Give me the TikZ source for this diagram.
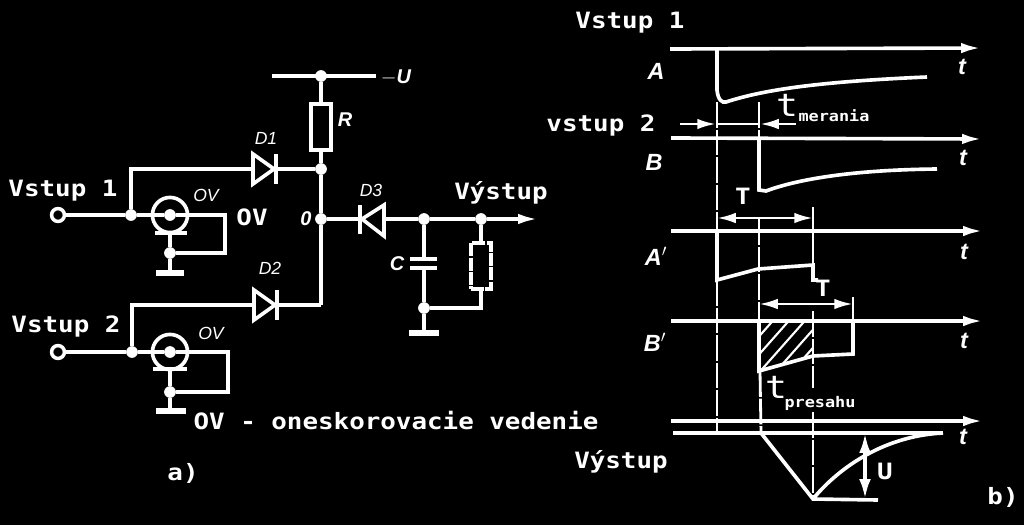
\documentclass[tikz,border=0pt]{standalone}
\usepackage{fontspec}
\setmainfont{Liberation Sans}
\newfontfamily\monofont[FakeStretch=1.15]{DejaVu Sans Mono}
\usetikzlibrary{arrows.meta}

\tikzset{
  wire/.style={draw=white,line width=3.1pt,line join=miter},
  thinwire/.style={draw=white,line width=2.3pt},
  hatch/.style={draw=white,line width=1.8pt},
  guide/.style={draw=white,line width=2.4pt,dash pattern=on 22pt off 1.5pt},
  axis/.style={wire,-{Latex[length=17pt,width=9pt]}},
  dim/.style={thinwire,{Latex[length=16pt,width=9pt]}-{Latex[length=16pt,width=9pt]}},
  dot/.style={circle,fill=white,inner sep=0pt,minimum size=10pt},
  term/.style={circle,draw=white,line width=3pt,fill=black,inner sep=0pt,minimum size=11pt},
  res/.style={draw=white,line width=3.1pt,fill=black,inner sep=0pt,minimum width=17pt,minimum height=39pt},
  txt/.style={text=white,font=\monofont\bfseries\fontsize{19.2}{21}\selectfont,inner sep=0pt},
  sub/.style={text=white,font=\monofont\bfseries\fontsize{12.5}{14}\selectfont,inner sep=0pt},
  big/.style={text=white,font=\monofont\fontsize{27}{29}\selectfont,inner sep=0pt},
  lab/.style={text=white,font=\itshape\fontsize{15}{17}\selectfont,inner sep=0pt},
  sig/.style={text=white,font=\bfseries\itshape\fontsize{20}{22}\selectfont,inner sep=0pt},
}

\begin{document}
\begin{tikzpicture}[x=0.03cm,y=-0.03cm]
  \fill[black] (0,0) rectangle (1024,525); %Background
  \useasboundingbox (0,0) rectangle (1024,525);

  %--- a) circuit
  \coordinate (railL) at (272,76);
  \coordinate (railR) at (376,76);
  \node[dot] (top) at (321,76) {};
  \node[res] (R) at (321,127) {};
  \node[dot] (nD) at (321,169) {};
  \node[dot] (nO) at (321,219) {};
  \coordinate (nE) at (321,305);
  \draw[wire] (railL) -- (railR); %Supply rail
  \draw[wire] (top) -- (R.north);
  \draw[wire] (R.south) -- (nD);
  \draw[wire] (nD) -- (nO);
  \draw[wire] (nO) -- (nE);

  \node[term] (in1) at (58,215) {}; %Input 1
  \node[dot] (j1) at (131,215) {};
  \coordinate (d1a) at (253,169);
  \coordinate (d1k) at (276,169);
  \draw[wire] (in1) -- (j1);
  \draw[wire] (j1) |- (d1a);
  \draw[wire] (d1a) -- (253,154) -- (274,169) -- (253,184) -- cycle; %Diode D1
  \draw[wire] (276,154) -- (276,184);
  \draw[wire] (d1k) -- (nD);

  \node[circle,draw=white,line width=3.1pt,inner sep=0pt,minimum size=30pt] (ov1) at (170,215) {}; %Delay line 1
  \node[dot] (ov1c) at (170,215) {};
  \node[dot] (g1) at (170,253) {};
  \coordinate (g1e) at (170,273);
  \coordinate (ov1b) at (170,233);
  \draw[wire] (j1) -- (ov1c);
  \draw[wire] (ov1c) -- (225,215) -- (225,253) -- (g1);
  \draw[wire] (155,233) -- (187,233);
  \draw[wire] (ov1b) -- (g1);
  \draw[wire] (g1) -- (g1e);
  \draw[line width=5pt,draw=white] (156,273) -- (184,273);

  \node[term] (in2) at (58,352) {}; %Input 2
  \node[dot] (j2) at (132,352) {};
  \coordinate (d2a) at (254,305);
  \coordinate (d2k) at (277,305);
  \draw[wire] (in2) -- (j2);
  \draw[wire] (j2) |- (d2a);
  \draw[wire] (d2a) -- (254,290) -- (275,305) -- (254,320) -- cycle; %Diode D2
  \draw[wire] (277,290) -- (277,320);
  \draw[wire] (d2k) -- (nE);

  \node[circle,draw=white,line width=3.1pt,inner sep=0pt,minimum size=30pt] (ov2) at (170,352) {}; %Delay line 2
  \node[dot] (ov2c) at (170,352) {};
  \node[dot] (g2) at (170,392) {};
  \coordinate (g2e) at (170,411);
  \coordinate (ov2b) at (170,369);
  \draw[wire] (j2) -- (ov2c);
  \draw[wire] (ov2c) -- (228,352) -- (228,392) -- (g2);
  \draw[wire] (153,369) -- (187,369);
  \draw[wire] (ov2b) -- (g2);
  \draw[wire] (g2) -- (g2e);
  \draw[line width=5pt,draw=white] (156,411) -- (186,411);

  \coordinate (d3k) at (360,219); %Diode D3
  \coordinate (d3a) at (384,219);
  \node[dot] (jC) at (424,219) {};
  \node[dot] (jL) at (481,219) {};
  \coordinate (out) at (538,219);
  \draw[wire] (nO) -- (d3k);
  \draw[wire] (384,205) -- (362,219) -- (384,236) -- cycle;
  \draw[wire] (360,205) -- (360,234);
  \draw[wire] (d3a) -- (jC);
  \draw[wire] (jC) -- (jL);
  \draw[axis] (jL) -- (out);

  \coordinate (cT) at (424,259); %Capacitor
  \coordinate (cB) at (424,268);
  \node[dot] (jG) at (424,308) {};
  \coordinate (gE) at (424,333);
  \draw[wire] (jC) -- (cT);
  \draw[wire] (410,259) -- (437,259);
  \draw[wire] (410,268) -- (437,268);
  \draw[wire] (cB) -- (jG);
  \draw[wire] (jG) -- (gE);
  \draw[line width=5pt,draw=white] (409,333) -- (439,333);

  \node[res,dash pattern=on 11pt off 1.2pt] (RL) at (481,266) {}; %Load
  \draw[wire] (jL) -- (RL.north);
  \draw[wire] (RL.south) |- (jG);

  \node[lab] (lD1) at (266,138) {D1};
  \node[lab] (lD2) at (270,268) {D2};
  \node[lab] (lD3) at (371,190) {D3};
  \node[sig,font=\bfseries\itshape\fontsize{17}{19}\selectfont] (lR) at (345,120) {R};
  \node[sig,font=\bfseries\itshape\fontsize{17}{19}\selectfont] (lO) at (306,219) {0};
  \node[sig,font=\bfseries\itshape\fontsize{17}{19}\selectfont] (lC) at (397,264) {C};
  \node[sig,font=\bfseries\itshape\fontsize{17}{19}\selectfont] (lU) at (396,77) {$-$U};
  \node[lab] (lOV1) at (206,195) {OV};
  \node[lab] (lOV2) at (211,333) {OV};
  \node[txt] (lOV3) at (252,217) {OV};
  \node[txt] (lin1) at (63,191) {Vstup 1};
  \node[txt] (lin2) at (66,326) {Vstup 2};
  \node[txt] (lout) at (501,193) {Výstup};
  \node[txt] (lnote) at (396,421) {OV - oneskorovacie vedenie};
  \node[txt] (la) at (183,473) {a)};

  %--- b) time plots
  \draw[axis] (670,49) -- (981,48); %Axis A
  \draw[axis] (671,138) -- (982,139); %Axis B
  \draw[axis] (671,231) -- (983,231); %Axis A'
  \draw[axis] (671,321) -- (983,321); %Axis B'
  \draw[axis] (671,421) -- (983,421); %Axis output

  \draw[wire] (717,49) -- (717,90) .. controls (718,100) and (722,103) .. (726,102)
    .. controls (760,91) and (810,82) .. (927,77); %Signal A
  \draw[wire] (759,138) -- (759,190) -- (766,191)
    .. controls (790,182) and (840,170) .. (937,169); %Signal B

  \draw[guide] (717,102) -- (717,231); %Start of A
  \draw[guide] (717,280) -- (717,433);
  \draw[guide] (759,102) -- (759,138); %Start of B
  \draw[guide] (759,219) -- (759,321);
  \draw[guide] (760,371) -- (761,433);

  \draw[wire] (717,231) -- (717,280) -- (758,269) -- (813,265) -- (813,280) -- (818,280); %Signal A'
  \draw[thinwire] (813,207) -- (813,265);

  \begin{scope} %Overlap
    \clip (759,321) -- (813,321) -- (813,356) -- (759,371) -- cycle;
    \foreach \hx in {700,716,732,748,764,780,796}
      \draw[hatch] (\hx,385) -- (\hx+62,315);
  \end{scope}
  \draw[wire] (759,321) -- (759,371) -- (813,356) -- (853,354) -- (853,321); %Signal B'
  \draw[thinwire] (853,297) -- (853,321);
  \draw[guide] (813,311) -- (813,388);
  \draw[guide] (813,412) -- (813,499);

  \coordinate (mL) at (680,124);
  \coordinate (mA) at (716,124);
  \coordinate (mB) at (760,124);
  \coordinate (mR) at (796,124);
  \draw[thinwire,-{Latex[length=16pt,width=9pt]}] (mL) -- (mA); %Width of pulse
  \draw[thinwire,-{Latex[length=16pt,width=9pt]}] (mR) -- (mB);
  \draw[thinwire] (mA) -- (mB);
  \draw[dim] (717,218) -- (813,218); %Delay
  \draw[dim] (759,304) -- (853,304);

  \draw[wire] (673,433) -- (943,433); %Output signal
  \draw[wire] (761,433) -- (813,499) -- (878,500);
  \draw[wire] (813,499) .. controls (835,472) and (880,436) .. (943,433);
  \coordinate (uT) at (865,433);
  \coordinate (uM) at (865,458);
  \coordinate (uB) at (865,499);
  \draw[wire,-{Latex[length=17pt,width=10pt]}] (uM) -- (uT);
  \draw[wire,-{Latex[length=17pt,width=10pt]}] (uM) -- (uB);

  \node[txt] (lv1) at (630,23) {Vstup 1};
  \node[txt] (lv2) at (601,125) {vstup 2};
  \node[txt] (lvy) at (621,462) {Výstup};
  \node[txt] (lb) at (1003,497) {b)};
  \node[sig] (sA) at (656,71) {A};
  \node[sig] (sB) at (654,162) {B};
  \node[sig] (sA2) at (656,256) {A$'$};
  \node[sig] (sB2) at (655,342) {B$'$};
  \node[sig] (t1) at (962,67) {t};
  \node[sig] (t2) at (963,158) {t};
  \node[sig] (t3) at (964,252) {t};
  \node[sig] (t4) at (964,341) {t};
  \node[sig] (t5) at (963,437) {t};
  \node[txt] (lT1) at (743,196) {T};
  \node[txt] (lT2) at (823,288) {T};
  \node[txt] (lU2) at (885,471) {U};
  \node[big] (lt1) at (787,105) {t};
  \node[sub] (lt1s) at (834,116) {merania};
  \node[big] (lt2) at (776,387) {t};
  \node[sub] (lt2s) at (820,403) {presahu};
\end{tikzpicture}
\end{document}
